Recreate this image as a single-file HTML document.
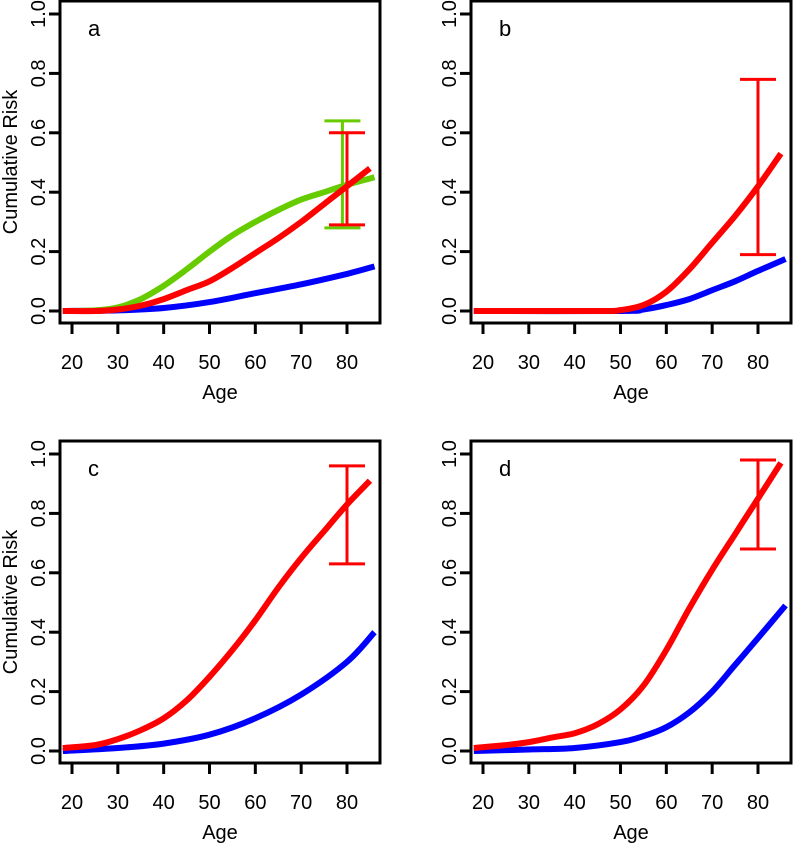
<!DOCTYPE html>
<html><head><meta charset="utf-8"><style>body{margin:0;background:#fff}svg{display:block}text{font-family:"Liberation Sans",Arial,sans-serif;fill:#000}</style></head>
<body>
<svg id="c" width="796" height="844"></svg>
<script>
const panelLabels=['a','b','c','d'];
const xTicks=[20,30,40,50,60,70,80];
const yTicks=[0,0.2,0.4,0.6,0.8,1.0];
const yTickLabels=['0.0','0.2','0.4','0.6','0.8','1.0'];
const redAges=[[18,25,30,35,40,45,50,55,60,65,70,75,80,85],[18,45,50,55,60,65,70,75,80,85],[18,25,30,35,40,45,50,55,60,65,70,75,80,85],[18,25,30,35,40,45,50,55,60,65,70,75,80,85]];
const redVals=[[0,0,0.005,0.018,0.04,0.07,0.1,0.145,0.195,0.245,0.3,0.36,0.42,0.48],[0,0,0.003,0.02,0.065,0.14,0.23,0.32,0.42,0.53],[0.01,0.02,0.04,0.07,0.11,0.17,0.25,0.34,0.44,0.55,0.65,0.74,0.83,0.91],[0.01,0.02,0.03,0.045,0.06,0.09,0.14,0.22,0.34,0.48,0.61,0.73,0.85,0.97]];
const blueAges=[[18,30,40,50,60,70,80,86],[18,50,55,60,65,70,75,80,86],[18,30,40,50,60,70,80,86],[18,30,40,50,55,60,65,70,75,80,86]];
const blueVals=[[0,0.002,0.01,0.03,0.06,0.09,0.125,0.15],[0,0,0.005,0.02,0.04,0.07,0.1,0.135,0.175],[0,0.01,0.025,0.055,0.11,0.19,0.3,0.4],[0,0.005,0.01,0.03,0.05,0.08,0.13,0.2,0.29,0.38,0.49]];
const greenAges=[18,25,30,35,40,45,50,55,60,65,70,75,80,86];
const greenVals=[0,0.002,0.012,0.04,0.085,0.14,0.2,0.255,0.3,0.34,0.375,0.4,0.425,0.45];
const redErr=[[80,0.29,0.60],[80,0.19,0.78],[80,0.63,0.96],[80,0.68,0.98]];
const greenErr=[79,0.28,0.64];
const NS='http://www.w3.org/2000/svg',svg=document.getElementById('c');
function el(t,a,p){const e=document.createElementNS(NS,t);for(const k in a)e.setAttribute(k,a[k]);(p||svg).appendChild(e);return e;}
function smooth(pts){let d='M'+pts[0][0].toFixed(1)+','+pts[0][1].toFixed(1);for(let j=0;j<pts.length-1;j++){const p0=pts[Math.max(j-1,0)],p1=pts[j],p2=pts[j+1],p3=pts[Math.min(j+2,pts.length-1)];const c1=[p1[0]+(p2[0]-p0[0])/6,p1[1]+(p2[1]-p0[1])/6],c2=[p2[0]-(p3[0]-p1[0])/6,p2[1]-(p3[1]-p1[1])/6];d+=`C${c1[0].toFixed(1)},${c1[1].toFixed(1)} ${c2[0].toFixed(1)},${c2[1].toFixed(1)} ${p2[0].toFixed(1)},${p2[1].toFixed(1)}`;}return d;}
for(let i=0;i<4;i++){
 const ox=(i%2)*411, oy=Math.floor(i/2)*440;
 const X=v=>ox+72+(v-20)*275/60, Y=v=>oy+311-v*297;
 const g=el('g',{});  
 function line(ages,vals,col,name){const d=smooth(ages.map((a,j)=>[X(a),Y(vals[j])]));const p=el('path',{d:d,fill:'none',stroke:col,'stroke-width':6,'stroke-linejoin':'round'},g);}
 function err(e,col,name){const x=X(e[0]),y1=Y(e[1]),y2=Y(e[2]);const p=el('path',{d:`M${x-18},${y1}H${x+18}M${x-18},${y2}H${x+18}M${x},${y1}V${y2}`,stroke:col,'stroke-width':3,fill:'none'},g);}
 line(blueAges[i],blueVals[i],'#0000ff','blue-curve');
 if(i==0){line(greenAges,greenVals,'#66cc00','green-curve');err(greenErr,'#66cc00','green-error-bar');}
 line(redAges[i],redVals[i],'#ff0000','red-curve');
 err(redErr[i],'#ff0000','red-error-bar');
 const f=el('rect',{x:ox+60,y:oy+1,width:320,height:322,fill:'none',stroke:'#000','stroke-width':3},g);
 xTicks.forEach(t=>{el('line',{x1:X(t),x2:X(t),y1:oy+323,y2:oy+334,stroke:'#000','stroke-width':3},g);const tx=el('text',{x:X(t),y:oy+369,'font-size':20,'text-anchor':'middle'},g);tx.textContent=t;});
 yTicks.forEach((t,j)=>{el('line',{x1:ox+49,x2:ox+60,y1:Y(t),y2:Y(t),stroke:'#000','stroke-width':3},g);const tx=el('text',{transform:`translate(${ox+45},${Y(t)}) rotate(-90)`,'font-size':20,'text-anchor':'middle'},g);tx.textContent=yTickLabels[j];});
 const xl=el('text',{x:ox+220,y:oy+399,'font-size':20,'text-anchor':'middle'},g);xl.textContent='Age';
 if(i%2==0){const yl=el('text',{transform:`translate(17,${oy+162}) rotate(-90)`,'font-size':20,'text-anchor':'middle'},g);yl.textContent='Cumulative Risk';}
 const pl=el('text',{x:ox+88,y:oy+36,'font-size':22},g);pl.textContent=panelLabels[i];
}
</script>
</body></html>
